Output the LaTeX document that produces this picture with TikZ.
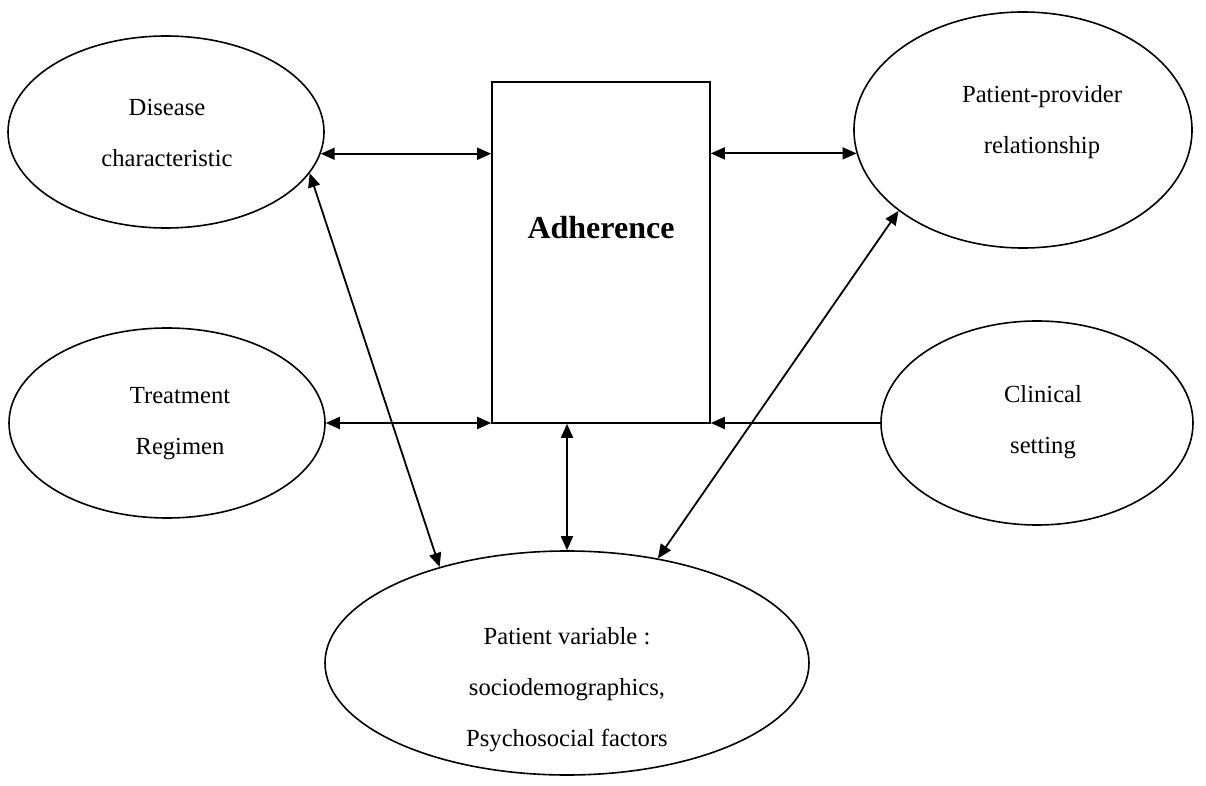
\documentclass[tikz,border=0pt]{standalone}
\usepackage{fontspec}
\setmainfont{Liberation Serif}
\usetikzlibrary{arrows.meta,shapes.geometric}
\begin{document}
\begin{tikzpicture}[x=0.5pt,y=-0.5pt,
  oval/.style={draw, ellipse, line width=0.8pt, inner sep=0pt},
  boxnode/.style={draw, rectangle, line width=0.8pt, inner sep=0pt},
  lbl/.style={align=center, inner sep=0pt, font=\fontsize{12.3}{25.5}\selectfont},
  conn/.style={line width=0.9pt},
  dbl/.style={conn, {Triangle[length=7pt,width=6pt]}-{Triangle[length=7pt,width=6pt]}},
  sgl/.style={conn, -{Triangle[length=7pt,width=6pt]}}]
\useasboundingbox (0,0) rectangle (1206,786);
\fill[white] (0,0) rectangle (1206,786);

% shapes
\node[boxnode, minimum width=109pt, minimum height=170.5pt] (adh) at (601,252.5) {};
\node[oval, minimum width=158pt, minimum height=96pt] (dis) at (166,132) {};
\node[oval, minimum width=158pt, minimum height=95pt] (trt) at (167,423) {};
\node[oval, minimum width=169pt, minimum height=118pt] (pp) at (1023,130) {};
\node[oval, minimum width=156pt, minimum height=102pt] (cli) at (1037,423) {};
\node[oval, minimum width=242pt, minimum height=112pt] (pat) at (567,663) {};

% texts
\node[inner sep=0pt, font=\fontsize{16}{19}\selectfont\bfseries] (adhtxt) at (601,228) {Adherence};
\node[lbl] (distxt) at (167,133) {Disease\\characteristic};
\node[lbl] (trttxt) at (180,424) {Treatment\\Regimen};
\node[lbl] (pptxt) at (1042,122) {Patient-provider\\relationship};
\node[lbl] (clitxt) at (1043,422) {Clinical\\setting};
\node[lbl] (pattxt) at (567,690) {Patient variable :\\sociodemographics,\\Psychosocial factors};

% connectors
\draw[dbl] (dis.-8.9) -- (dis.-8.9 -| adh.west);
\draw[dbl] (pp.188.9 -| adh.east) -- (pp.188.9);
\draw[dbl] (trt.east) -- (trt.east -| adh.west);
\draw[sgl] (cli.west) -- (cli.west -| adh.east);
\draw[dbl] (pat.north |- adh.south) -- (pat.north);
\draw[dbl] (dis.-16.3) -- (pat.143.3);
\draw[dbl] (pp.213.7) -- (pat.49.9);
\end{tikzpicture}
\end{document}
